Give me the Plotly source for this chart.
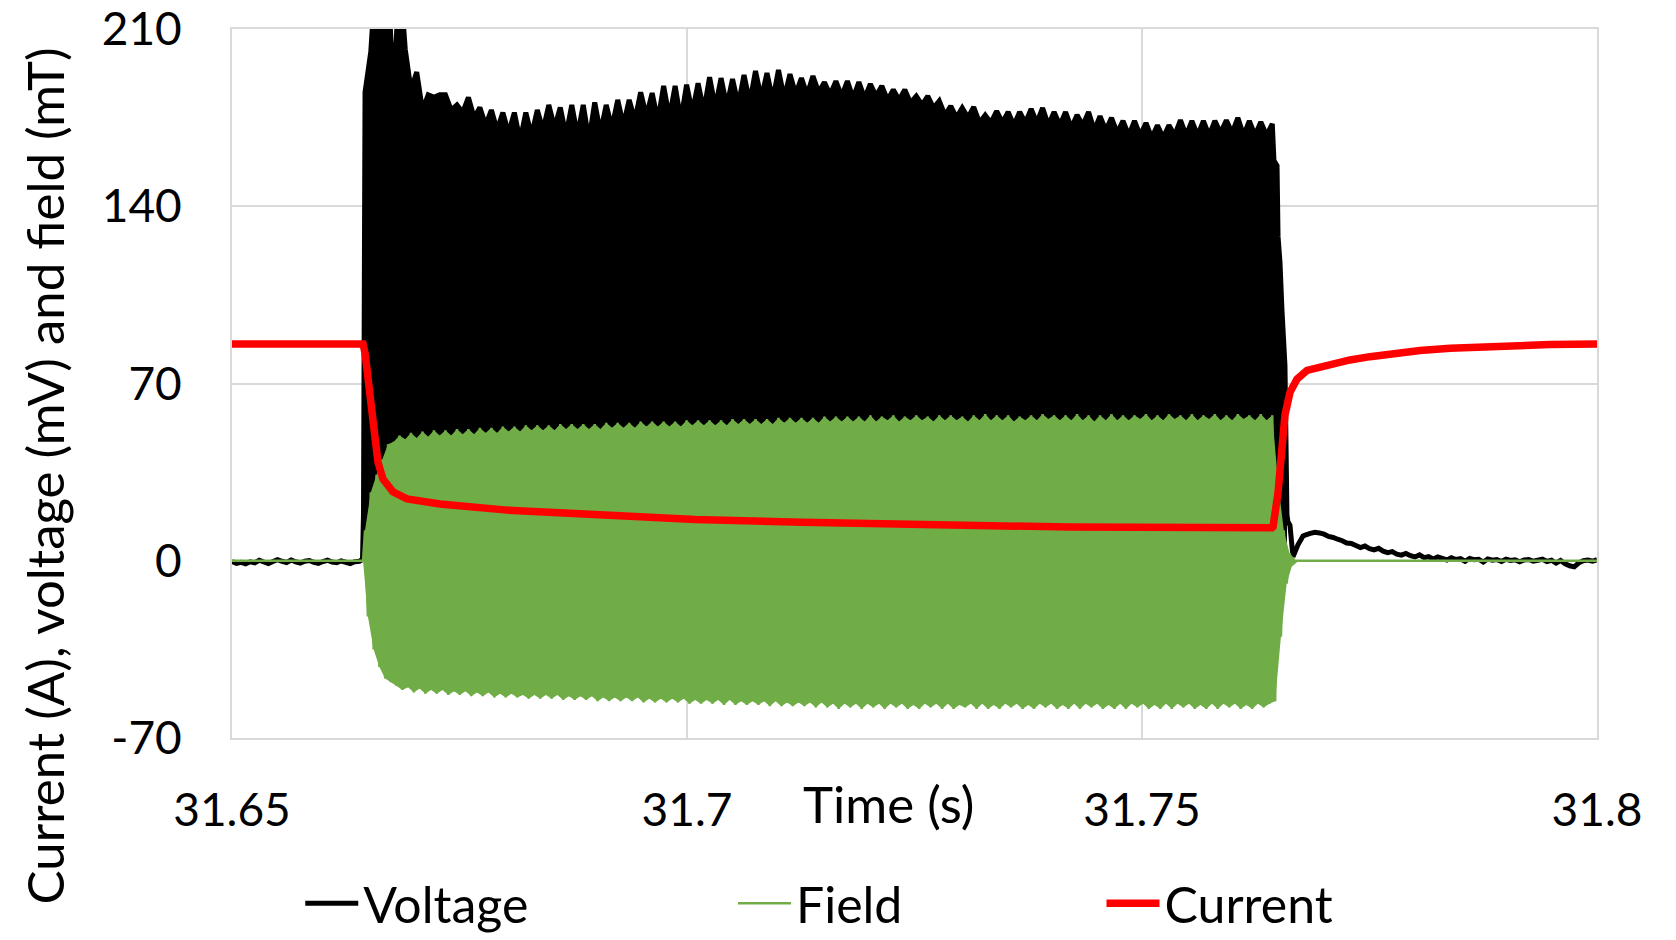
import numpy as np
import plotly.graph_objects as go

# ---------------- axis ticks ----------------
x_tick_vals = [31.65, 31.70, 31.75, 31.80]
x_tick_text = ["31.65", "31.7", "31.75", "31.8"]
y_tick_vals = [-70, 0, 70, 140, 210]
y_tick_text = ["-70", "0", "70", "140", "210"]

# ---------------- voltage (mV) ----------------
# baseline before the pulse, sampled every 0.5 ms from 31.650 s
baseline_step = 0.0005
volt_pre_start = 31.650
volt_pre = [-0.3, -1.0, -0.6, -1.2, -0.4, -0.8, 0.2, -0.5, -1.1, -0.3,
            0.4, -0.2, -0.7, 0.3, -0.4, -0.9, -0.2, 0.1, -0.6, -1.0,
            -0.3, 0.2, -0.5, -0.8, -0.1, -0.6, -1.1, -0.4, -0.2]
# switch-on edge
volt_edge_t = [31.66434, 31.66445]
volt_edge_v = [0.5, 18.0]
# peak values during the pulse, one every peak_step seconds
pulse_t0 = 31.66462
peak_step = 0.000631
volt_peaks = [185, 201, 236, 196, 228, 184, 233, 202, 186, 193,
              178, 184, 183, 184, 184, 178, 180, 177, 183, 175,
              179, 172, 178, 170, 177, 169, 177, 166, 177, 168,
              178, 170, 180, 171, 179, 168, 180, 168, 180, 166,
              181, 169, 180, 171, 182, 172, 182, 174, 185, 175.6,
              184.7, 173.7, 187.5, 175, 187.5, 174, 188, 177, 188.6, 177.6,
              191, 179, 190.6, 179.6, 190.2, 180, 191.8, 181, 193.4, 182.7,
              192.6, 182, 193.8, 182.7, 192.2, 184.3, 190.6, 184, 191.4, 185,
              189, 184, 189.4, 183.5, 189.4, 182.7, 189, 182.7, 188.3, 183.5,
              187.5, 182, 186, 182, 186, 180.8, 183.5, 180, 183.5, 178.8,
              181.6, 176, 179.6, 175, 178.8, 175, 179.2, 173, 176, 173,
              177.6, 173, 177.2, 172, 177.2, 173, 178.4, 173, 178.8, 172,
              177.2, 172, 177.2, 171, 176, 172, 177.2, 170, 175.6, 170,
              174.9, 169, 173.7, 168, 173.7, 168, 172.9, 167, 172, 167,
              172, 168, 174, 168, 173.7, 168, 173.7, 168, 173.7, 169,
              174, 169, 174.9, 168, 173.7, 168, 173.3, 168, 172.5]
# switch-off edge and the recovery bump
volt_tail_t = [31.76450, 31.76484, 31.76495, 31.76516, 31.76538, 31.76571,
               31.76593, 31.76604, 31.76626, 31.76659, 31.76714, 31.76769]
volt_tail_v = [158, 156, 128, 118, 99, 77, 18, 15.4, 14, 1.6, 6.3, 9.8]
# decay after the pulse, sampled every 0.5 ms from 31.768 s
volt_post_start = 31.7680
volt_post = [10.2, 10.8, 11.2, 11.0, 10.5, 9.6, 9.2, 8.5, 7.9, 7.0,
             6.8, 6.0, 5.2, 5.8, 4.8, 4.3, 4.9, 3.8, 3.2, 3.6,
             2.6, 2.2, 2.9, 2.0, 1.5, 2.3, 1.2, 1.6, 0.7, 1.5,
             0.9, 0.3, 1.2, 0.5, 0.8, -0.2, 0.9, 0.4, 0.6, -0.5,
             0.7, 0.2, 0.5, -0.3, 0.6, 0.1, 0.4, -0.4, 0.3, 0.5,
             -0.2, 0.2, 0.6, -0.3, 0.2, -0.9, 0.1, -1.2, -2.0, -2.4,
             -0.8, 0.0, 0.3, -0.2, 0.4]

# ---------------- field (mT) ----------------
field_pre_t = [31.650, 31.66440]
field_pre_v = [0.0, 0.0]
field_peaks = [12, 27, 34, 40, 46, 47, 49.5, 48, 50.5, 48.5,
               51, 49, 51.5, 49.5, 51.5, 49.5, 52, 50, 52, 50,
               52.5, 50.5, 52.5, 50.5, 53, 51, 53, 51, 53.5, 51.5,
               53.5, 51.5, 53.5, 51.5, 54, 52, 54, 52, 54, 52,
               54, 52, 54.5, 52.5, 54.5, 52.5, 54.5, 52.5, 55, 53,
               55, 53, 55, 53, 55, 53, 55.5, 53.5, 55.5, 53.5,
               55.5, 53.5, 55.5, 53.5, 56, 54, 56, 54, 56, 54,
               56, 54, 56.5, 54.5, 56.5, 54.5, 56.5, 54.5, 56.5, 54.5,
               57, 55, 57, 55, 57, 55, 57, 55, 57.5, 55,
               57, 55.5, 57.5, 55, 57, 55.5, 57.5, 55.5, 57, 55,
               57.5, 55.5, 57.5, 55.5, 57, 55, 57.5, 55.5, 58, 55.5,
               57.5, 55.5, 57.5, 55, 57, 55.5, 57.5, 55.5, 58, 56,
               57.5, 55.5, 57.5, 55.5, 58, 55.5, 57.5, 55, 57.5, 55.5,
               58, 55.5, 57.5, 55.5, 57.5, 56, 58, 55.5, 57.5, 55.5,
               58, 56, 57.5, 55.5, 58, 55.5, 57.5, 56, 58, 55.5,
               57.5, 55.5, 58, 56, 57.5, 55.5, 58, 55.5, 57.5]
field_troughs = [-22, -35, -42, -46.5, -48, -49.5, -51, -50, -52, -50.5,
                 -52.5, -51, -52.5, -51, -53, -51.5, -53, -51.5, -53.5, -52,
                 -53.5, -52, -54, -52.5, -54, -52.5, -54, -53, -54.5, -53,
                 -54.5, -53, -54.5, -53, -55, -53.5, -55, -53.5, -55, -53.5,
                 -55.5, -54, -55.5, -54, -55.5, -54, -55.5, -54, -56, -54.5,
                 -56, -54.5, -56, -54.5, -56, -54.5, -56.5, -55, -56.5, -55,
                 -56.5, -55, -57, -55, -57, -55.5, -57, -55.5, -57, -55.5,
                 -57.5, -55.5, -57.5, -56, -57.5, -56, -57.5, -56, -58, -56,
                 -58, -56.5, -58.5, -56.5, -58, -56.5, -58.5, -56.5, -58, -56.5,
                 -58.5, -56.5, -58, -56.5, -58.5, -57, -58.5, -56.5, -58, -56.5,
                 -58.5, -56.5, -58.5, -57, -58, -56.5, -58.5, -56.5, -58.5, -57,
                 -58.5, -56.5, -58, -56.5, -58.5, -57, -58.5, -56.5, -58, -56.5,
                 -58.5, -57, -58.5, -56.5, -58.5, -56.5, -58, -56.5, -58.5, -57,
                 -58.5, -56.5, -58.5, -56.5, -58, -56.5, -58.5, -57, -58.5, -56.5,
                 -58.5, -56.5, -58, -56.5, -58.5, -57, -58.5, -56.5, -58.5, -56.5,
                 -58, -56.5, -58.5, -57, -58.5, -56.5, -58, -56.5, -55.5]
field_tail_peaks = [31, 12, 3]
field_tail_troughs = [-30, -9, -1.5]
field_post_t = [31.76700, 31.800]
field_post_v = [0.0, 0.0]

# ---------------- current (A) ----------------
cur_t = [31.6500, 31.6600, 31.66440, 31.66462, 31.66495, 31.66549, 31.66604,
         31.66659, 31.66769, 31.66923, 31.67286, 31.68022, 31.68747, 31.69407,
         31.70088, 31.71264, 31.73022, 31.74198, 31.76429, 31.76440, 31.76495,
         31.76538, 31.76571, 31.76626, 31.76703, 31.76813, 31.76989, 31.77132,
         31.77286, 31.77505, 31.77725, 31.78055, 31.78385, 31.78934, 31.79484,
         31.80000]
cur_v = [85.6, 85.6, 85.6, 82.0, 70.5, 53.6, 39.0,
         32.3, 27.2, 24.4, 22.4, 20.0, 18.5, 17.3,
         16.3, 15.2, 13.9, 13.3, 13.0, 13.4, 27.0,
         44.0, 57.5, 66.5, 71.7, 75.2, 77.0, 78.3,
         79.3, 80.6, 81.8, 83.0, 83.9, 84.9, 85.4,
         85.6]

# ---------------- assemble series ----------------
GREEN = "#70AD47"
GRID = "#D9D9D9"
TEXT_FONT = "Lato"

t_pre = volt_pre_start + baseline_step * np.arange(len(volt_pre))
t_post = volt_post_start + baseline_step * np.arange(len(volt_post))
t_vpeaks = pulse_t0 + peak_step * np.arange(len(volt_peaks))

volt_t = np.concatenate([t_pre, volt_edge_t, t_vpeaks, volt_tail_t, t_post])
volt_v = np.concatenate([volt_pre, volt_edge_v, volt_peaks, volt_tail_v, volt_post])

# body of the pulse (edge-on to the first sample back near the baseline)
n_tail_fill = next(i for i, v in enumerate(volt_tail_v) if v < 20) + 1
pulse_t = np.concatenate([volt_edge_t[1:], t_vpeaks, volt_tail_t[:n_tail_fill]])
pulse_v = np.concatenate([volt_edge_v[1:], volt_peaks, volt_tail_v[:n_tail_fill]])

fp = list(field_peaks) + list(field_tail_peaks)
ft = list(field_troughs) + list(field_tail_troughs)
t_fp = pulse_t0 + peak_step * np.arange(len(fp))
t_ft = t_fp + peak_step / 2
zig_t = np.empty(2 * len(fp))
zig_v = np.empty(2 * len(fp))
zig_t[0::2], zig_t[1::2] = t_fp, t_ft
zig_v[0::2], zig_v[1::2] = fp, ft
field_t = np.concatenate([field_pre_t, zig_t, field_post_t])
field_v = np.concatenate([field_pre_v, zig_v, field_post_v])

band_t = np.concatenate([[field_pre_t[-1]], t_fp, [field_post_t[0]], t_ft[::-1]])
band_v = np.concatenate([[field_pre_v[-1]], fp, [field_post_v[0]], ft[::-1]])

fig = go.Figure()

fig.add_trace(go.Scatter(x=pulse_t, y=pulse_v, mode="lines", fill="tozeroy",
                         fillcolor="#000000", line=dict(width=0, color="#000000"),
                         showlegend=False, hoverinfo="skip"))
fig.add_trace(go.Scatter(x=volt_t, y=volt_v, mode="lines", name="Voltage",
                         line=dict(color="#000000", width=5, simplify=False),
                         legend="legend"))
fig.add_trace(go.Scatter(x=band_t, y=band_v, mode="lines", fill="toself",
                         fillcolor=GREEN, line=dict(width=0, color=GREEN),
                         showlegend=False, hoverinfo="skip"))
fig.add_trace(go.Scatter(x=field_t, y=field_v, mode="lines", name="Field",
                         line=dict(color=GREEN, width=2.5, simplify=False),
                         legend="legend2"))
fig.add_trace(go.Scatter(x=cur_t, y=cur_v, mode="lines", name="Current",
                         line=dict(color="#FF0000", width=7.5),
                         legend="legend3"))

axis_common = dict(
    showgrid=True, gridcolor=GRID, gridwidth=2,
    showline=True, linecolor=GRID, linewidth=2, mirror=True,
    zeroline=False, ticks="", ticklabeloverflow="allow",
    tickfont=dict(family=TEXT_FONT, size=46, color="#000000"),
)

legend_common = dict(
    orientation="h", xanchor="left", yanchor="middle", y=-0.233,
    font=dict(family=TEXT_FONT, size=50, color="#000000"),
    bgcolor="rgba(0,0,0,0)", borderwidth=0, itemwidth=53,
)

fig.update_layout(
    width=1676, height=940,
    margin=dict(l=232, r=79, t=29, b=202, autoexpand=False),
    paper_bgcolor="white", plot_bgcolor="white",
    xaxis=dict(range=[31.65, 31.80], tickvals=x_tick_vals, ticktext=x_tick_text,
               ticklabelstandoff=31, **axis_common),
    yaxis=dict(range=[-70, 210], tickvals=y_tick_vals, ticktext=y_tick_text,
               ticklabelstandoff=39, **axis_common),
    legend=dict(x=0.050, **legend_common),
    legend2=dict(x=0.367, **legend_common),
    legend3=dict(x=0.637, **legend_common),
    annotations=[
        dict(text="Current (A), voltage (mV) and field (mT)", textangle=-90,
             xref="paper", yref="paper", x=-0.1377, y=0.369,
             xanchor="center", yanchor="middle", showarrow=False,
             font=dict(family=TEXT_FONT, size=51, color="#000000")),
        dict(text="Time (s)", xref="paper", yref="paper", x=0.4806, y=-0.0928,
             xanchor="center", yanchor="middle", showarrow=False,
             font=dict(family=TEXT_FONT, size=51, color="#000000")),
    ],
    hovermode=False,
)

fig.write_html("out.html")
